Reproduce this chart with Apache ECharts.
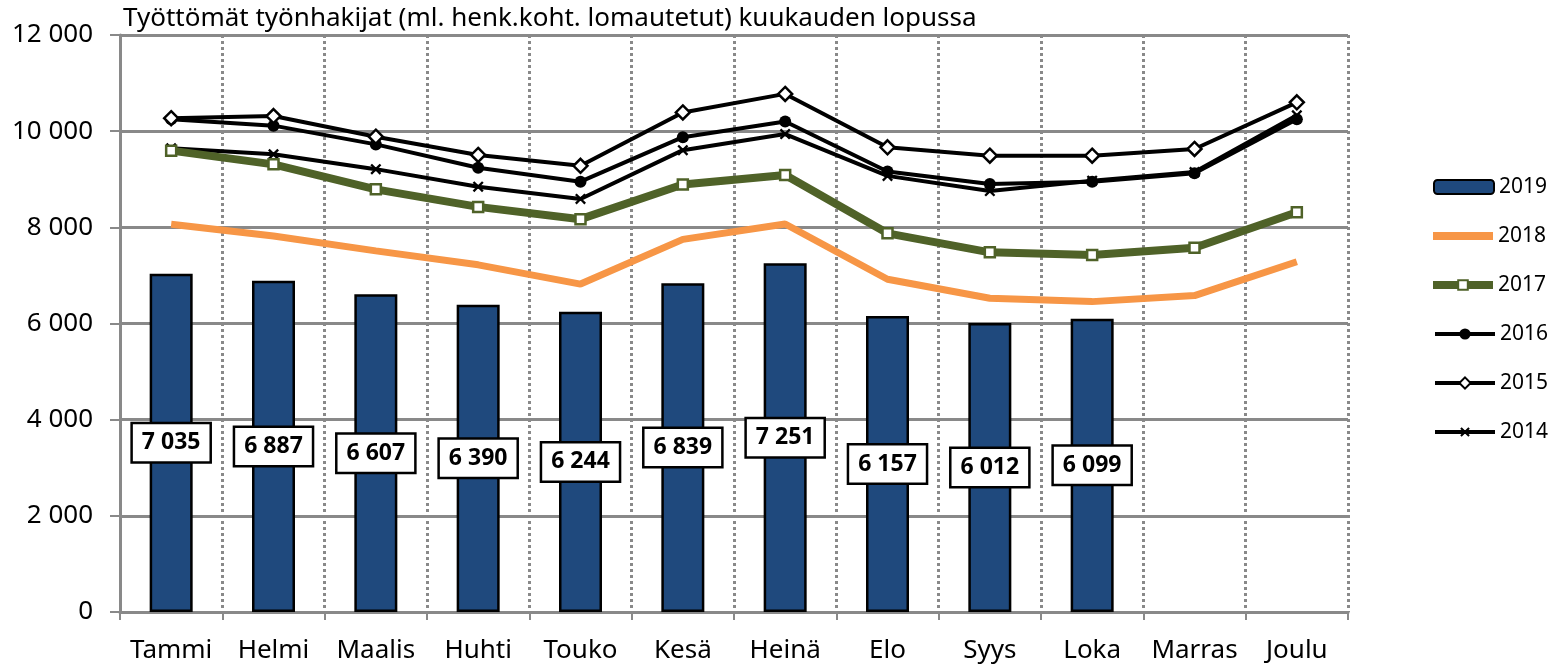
<!DOCTYPE html>
<html lang="fi">
<head>
    <meta charset="UTF-8">
    <title>Työttömät työnhakijat</title>
    <script src="https://cdn.jsdelivr.net/npm/echarts@6/dist/echarts.min.js"></script>
    <style>
        body { margin: 0; background: #fff; }
        #chart { width: 1554px; height: 667px; }
    </style>
</head>
<body>
    <div id="chart"></div>
    <script>
        const months = ['Tammi', 'Helmi', 'Maalis', 'Huhti', 'Touko', 'Kesä', 'Heinä', 'Elo', 'Syys', 'Loka', 'Marras', 'Joulu'];
        const y2019 = [7035, 6887, 6607, 6390, 6244, 6839, 7251, 6157, 6012, 6099];
        const y2018 = [8065, 7820, 7510, 7220, 6820, 7750, 8070, 6920, 6525, 6455, 6580, 7285];
        const y2017 = [9595, 9310, 8790, 8425, 8170, 8890, 9090, 7875, 7480, 7425, 7577, 8313];
        const y2016 = [10250, 10115, 9725, 9240, 8950, 9875, 10200, 9160, 8900, 8950, 9125, 10250];
        const y2015 = [10270, 10315, 9885, 9505, 9280, 10390, 10775, 9665, 9490, 9490, 9630, 10600];
        const y2014 = [9645, 9520, 9210, 8845, 8590, 9605, 9940, 9070, 8755, 8970, 9150, 10330];

        const fmt = v => String(v).replace(/\B(?=(\d{3})+(?!\d))/g, ' ');
        const font = 'Noto Sans';
        const gray = '#898989';
        const crossPath = 'path://M0,1.5L1.5,0L5,3.5L8.5,0L10,1.5L6.5,5L10,8.5L8.5,10L5,6.5L1.5,10L0,8.5L3.5,5Z';

        const chart = echarts.init(document.getElementById('chart'));

        // one legend per entry, so each row sits where the reference has it
        const legendText = { fontFamily: font, fontSize: 21, color: '#000', lineHeight: 24 };
        const legendRows = [
            { item: { name: '2019' }, h: 14, left: 1428 },
            { item: { name: '2018', icon: 'rect' }, h: 8, left: 1428 },
            { item: { name: '2017', lineStyle: { width: 8 } }, h: 12, left: 1424 },
            { item: { name: '2016', lineStyle: { width: 4 } }, h: 14, left: 1428 },
            { item: { name: '2015', lineStyle: { width: 4 } }, h: 14, left: 1428 },
            { item: { name: '2014', lineStyle: { width: 4 } }, h: 12, left: 1428 }
        ];
        const legends = legendRows.map((r, i) => ({
            data: [r.item],
            orient: 'vertical',
            left: r.left,
            top: 170 + i * 49,
            itemWidth: 60,
            itemHeight: r.h,
            itemGap: 0,
            textStyle: legendText
        }));

        const option = {
            animation: false,
            title: {
                text: 'Työttömät työnhakijat (ml. henk.koht. lomautetut) kuukauden lopussa',
                left: 118,
                top: 1,
                textStyle: { fontFamily: font, fontSize: 26, fontWeight: 'normal', color: '#000' }
            },
            legend: legends,
            grid: { left: 120, right: 206, top: 35, bottom: 55 },
            xAxis: {
                type: 'category',
                data: months,
                axisLine: { lineStyle: { color: gray, width: 3 } },
                axisTick: { show: true, interval: 0, length: 8, lineStyle: { color: gray, width: 2 } },
                axisLabel: { interval: 0, fontFamily: font, fontSize: 26, color: '#000', margin: 26 },
                splitLine: { show: true, interval: 0, lineStyle: { color: gray, width: 3, type: [3, 3] } }
            },
            yAxis: {
                type: 'value',
                min: 0,
                max: 12000,
                interval: 2000,
                axisLine: { show: true, lineStyle: { color: gray, width: 3 } },
                axisTick: { show: true, length: 10, lineStyle: { color: gray, width: 2 } },
                axisLabel: { fontFamily: font, fontSize: 26, color: '#000', margin: 27, formatter: fmt },
                splitLine: { lineStyle: { color: gray, width: 3 } }
            },
            series: [
                {
                    name: '2019',
                    type: 'bar',
                    data: y2019,
                    barWidth: 43,
                    itemStyle: { color: '#1f497d', borderColor: '#000', borderWidth: 2.5 },
                    label: {
                        show: true,
                        position: 'inside',
                        formatter: p => fmt(p.value),
                        fontFamily: font,
                        fontSize: 23,
                        fontWeight: 'bold',
                        color: '#000',
                        backgroundColor: '#fff',
                        borderColor: '#000',
                        borderWidth: 2.5,
                        padding: [8, 9, 6, 9]
                    },
                    z: 2
                },
                {
                    name: '2018',
                    type: 'line',
                    data: y2018,
                    symbol: 'none',
                    lineStyle: { color: '#f79646', width: 7 },
                    itemStyle: { color: '#f79646' },
                    z: 3
                },
                {
                    name: '2014',
                    type: 'line',
                    data: y2014,
                    symbol: crossPath,
                    symbolSize: 11,
                    lineStyle: { color: '#000', width: 4 },
                    itemStyle: { color: '#000' },
                    z: 4
                },
                {
                    name: '2017',
                    type: 'line',
                    data: y2017,
                    symbol: 'rect',
                    symbolSize: 10,
                    lineStyle: { color: '#4f6228', width: 8 },
                    itemStyle: { color: '#fff', borderColor: '#4f6228', borderWidth: 2.5 },
                    z: 5
                },
                {
                    name: '2016',
                    type: 'line',
                    data: y2016,
                    symbol: 'circle',
                    symbolSize: 12,
                    lineStyle: { color: '#000', width: 4 },
                    itemStyle: { color: '#000' },
                    z: 6
                },
                {
                    name: '2015',
                    type: 'line',
                    data: y2015,
                    symbol: 'diamond',
                    symbolSize: 14,
                    lineStyle: { color: '#000', width: 4 },
                    itemStyle: { color: '#fff', borderColor: '#000', borderWidth: 2.5 },
                    z: 7
                }
            ]
        };

        chart.setOption(option);
    </script>
</body>
</html>
